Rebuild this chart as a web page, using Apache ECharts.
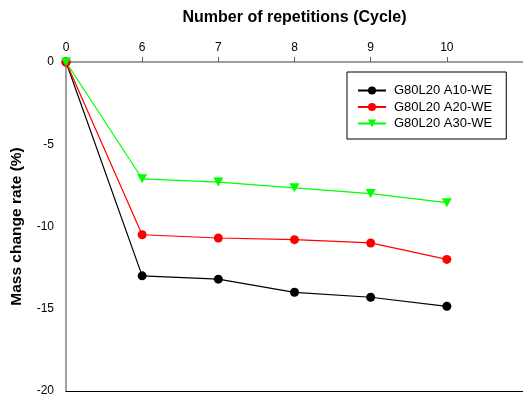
<!DOCTYPE html>
<html>
<head>
<meta charset="utf-8">
<script src="https://cdn.jsdelivr.net/npm/echarts@6/dist/echarts.min.js"></script>
<style>
  html, body { margin: 0; padding: 0; background: #fff; }
  #chart { width: 523px; height: 397px; }
</style>
</head>
<body>
<div id="chart"></div>
<script>
// Cycle labels along the top axis (trailing blank slot pads the axis to the right edge)
const cycles = ['0', '6', '7', '8', '9', '10', ''];

// Mass change rate (%) per cycle for each specimen
const a10 = [0, -13.0, -13.2, -14.0, -14.3, -14.85];
const a20 = [0, -10.5, -10.7, -10.8, -11.0, -12.0];
const a30 = [0, -7.1, -7.3, -7.65, -8.0, -8.55];

const seriesNames = ['G80L20 A10-WE', 'G80L20 A20-WE', 'G80L20 A30-WE'];
const yTicks = { min: -20, max: 0, step: 5 };

const FONT = "'Liberation Sans', Arial, sans-serif";

const chart = echarts.init(document.getElementById('chart'), null, { renderer: 'canvas' });

const showReal = (idx, val) => val !== '';

function lineSeries(name, data, color, symbol) {
  return {
    name: name,
    type: 'line',
    data: data,
    xAxisIndex: 0,
    symbol: symbol,
    symbolSize: symbol === 'triangle' ? [10, 9] : 9,
    symbolRotate: symbol === 'triangle' ? 180 : 0,
    showSymbol: true,
    lineStyle: { color: color, width: 1.2 },
    itemStyle: { color: color },
    emphasis: { disabled: true },
    animation: false
  };
}

chart.setOption({
  backgroundColor: '#fff',
  animation: false,
  grid: { left: 66, right: 0, top: 62, bottom: 5, containLabel: false },
  legend: {
    orient: 'vertical',
    left: 347,
    top: 72,
    padding: [12, 14, 9, 10],
    itemGap: 3.5,
    itemWidth: 28,
    itemHeight: 10,
    borderColor: '#000',
    borderWidth: 1,
    borderRadius: 0,
    textStyle: { fontFamily: FONT, fontSize: 13, color: '#000', padding: [0, 0, 0, 3] },
    data: seriesNames
  },
  xAxis: [
    {
      type: 'category',
      position: 'top',
      data: cycles,
      boundaryGap: false,
      name: 'Number of repetitions (Cycle)',
      nameLocation: 'middle',
      nameGap: 36,
      nameTextStyle: { fontFamily: FONT, fontSize: 16, fontWeight: 'bold', color: '#000' },
      axisLine: { show: true, lineStyle: { color: '#808080', width: 1.5 } },
      axisTick: { show: true, inside: false, length: 5, interval: showReal, lineStyle: { color: '#606060', width: 1 } },
      axisLabel: { show: true, margin: 8, interval: showReal, fontFamily: FONT, fontSize: 12, color: '#000' },
      splitLine: { show: false }
    },
    {
      type: 'category',
      position: 'bottom',
      data: cycles,
      boundaryGap: false,
      axisLine: { show: true, lineStyle: { color: '#000', width: 1.2 } },
      axisTick: { show: false },
      axisLabel: { show: false },
      splitLine: { show: false }
    }
  ],
  yAxis: {
    type: 'value',
    min: yTicks.min,
    max: yTicks.max,
    interval: yTicks.step,
    name: 'Mass change rate (%)',
    nameLocation: 'middle',
    nameGap: 41,
    nameTextStyle: { fontFamily: FONT, fontSize: 15.5, fontWeight: 'bold', color: '#000' },
    axisLine: { show: true, lineStyle: { color: '#808080', width: 1.5 } },
    axisTick: { show: false },
    axisLabel: { margin: 12, fontFamily: FONT, fontSize: 12, color: '#000' },
    splitLine: { show: false }
  },
  series: [
    lineSeries(seriesNames[0], a10, '#000000', 'circle'),
    lineSeries(seriesNames[1], a20, '#ff0000', 'circle'),
    lineSeries(seriesNames[2], a30, '#00ff00', 'triangle')
  ]
});
</script>
</body>
</html>
